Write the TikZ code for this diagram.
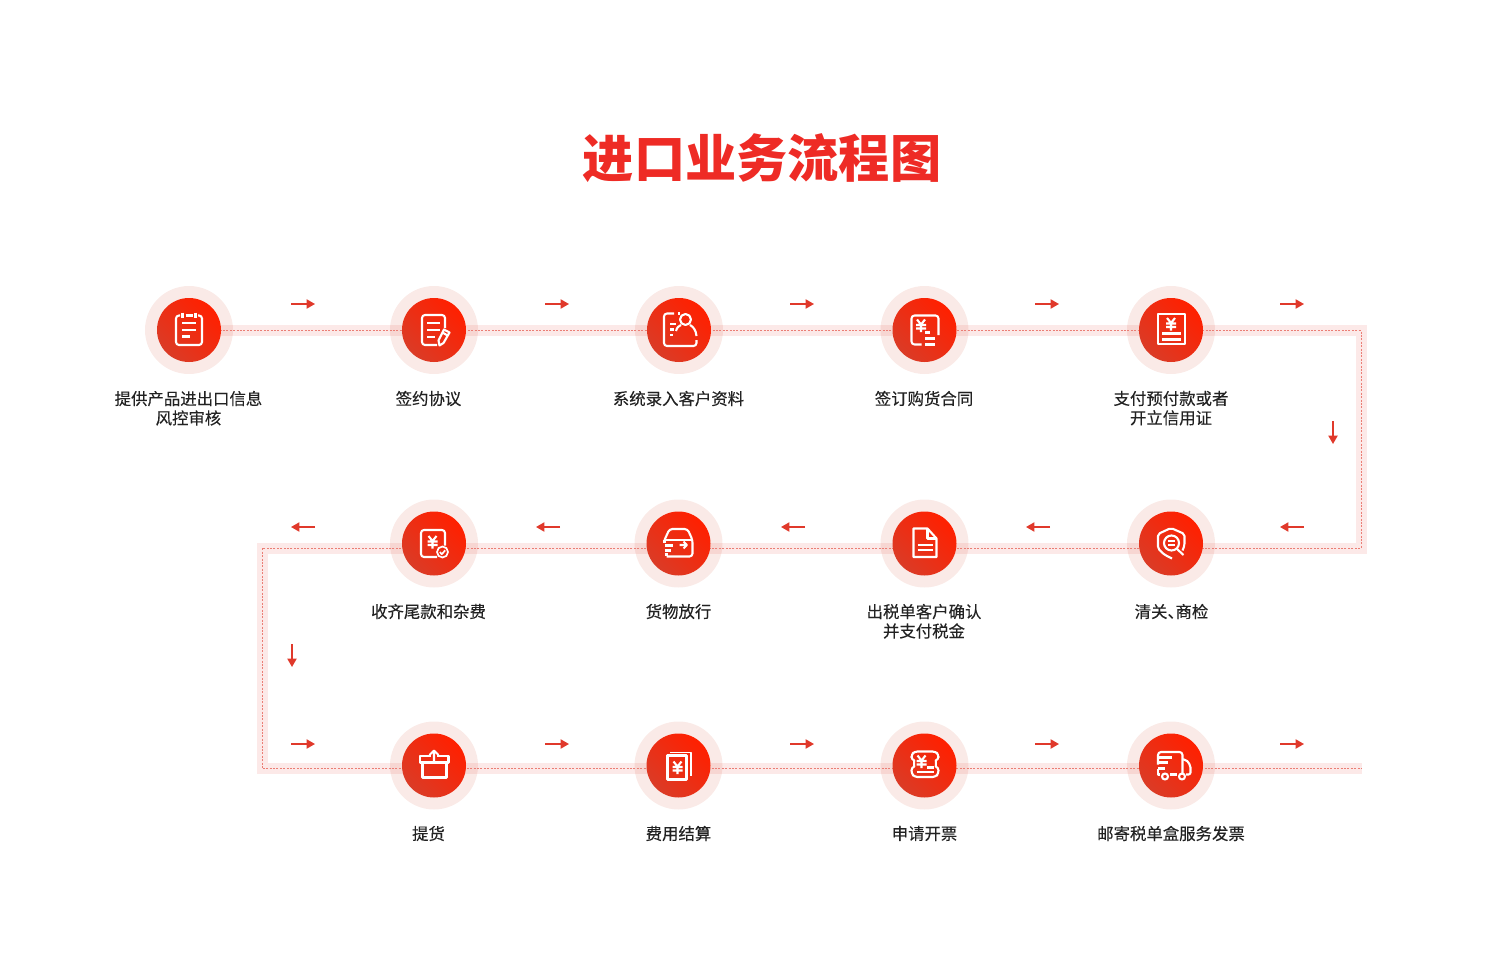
\documentclass[tikz,border=0pt]{standalone}
\usepackage{fontspec}
\setmainfont{Noto Sans CJK SC}
\newfontfamily\labelfont[FakeBold=0.25]{Noto Sans CJK SC}
\usetikzlibrary{arrows.meta}

\definecolor{flowred}{HTML}{E0392B}
\definecolor{titlered}{HTML}{EE2B25}
\definecolor{halopink}{HTML}{FAEAE7}
\definecolor{discdark}{HTML}{DB3B26}
\definecolor{discbright}{HTML}{FF2000}
\definecolor{labelgray}{HTML}{222222}

\tikzset{
  titletext/.style={text=titlered,font=\fontsize{25.6}{30}\selectfont\bfseries,inner sep=0pt},
  halo/.style={circle,fill=halopink,minimum size=44pt,inner sep=0pt},
  disc/.style={circle,top color=discbright,bottom color=discdark,shading angle=-45,minimum size=32pt,inner sep=0pt},
  band/.style={draw=flowred,draw opacity=0.11,line width=5.5pt,line join=miter},
  dashline/.style={draw=flowred!65,line width=0.25pt,dash pattern=on 1pt off 0.7pt},
  flowarrow/.style={draw=flowred,line width=0.8pt,-{Triangle[length=4.2pt,width=4.6pt]}},
  iconline/.style={draw=white,line width=1.05pt,line join=round,fill=none},
  iconthin/.style={draw=white,line width=0.85pt,line join=round,fill=none},
  steplabel/.style={text=labelgray,font=\labelfont\fontsize{8.2}{9.7}\selectfont,align=center,anchor=north,inner sep=0pt}
}

\newcommand{\yenmark}[1]{\draw[iconline,shift={#1}] (-4,-6) -- (0,-1) -- (4,-6) (-5,-0.5) -- (5,-0.5) (-5,3) -- (5,3) (0,-1) -- (0,6.5);}

\begin{document}
\begin{tikzpicture}[x=0.5pt,y=-0.5pt]
  \useasboundingbox (0,0) rectangle (1500,963);

  \node[titletext] (title) at (762,158) {进口业务流程图};

  % halos sit under the route
  \node[halo] (h1) at (189,330) {};
  \node[halo] (h2) at (434,330) {};
  \node[halo] (h3) at (679,330) {};
  \node[halo] (h4) at (924.5,330) {};
  \node[halo] (h5) at (1171,330) {};
  \node[halo] (h6) at (1171,543.5) {};
  \node[halo] (h7) at (924.5,543.5) {};
  \node[halo] (h8) at (678.5,543.5) {};
  \node[halo] (h9) at (434,543.5) {};
  \node[halo] (h10) at (434,765.5) {};
  \node[halo] (h11) at (678.5,765.5) {};
  \node[halo] (h12) at (924.5,765.5) {};
  \node[halo] (h13) at (1171,765.5) {};

  \coordinate (r0) at (189,330.5);
  \coordinate (r1) at (1361,330.5);
  \coordinate (r2) at (1361,548);
  \coordinate (r3) at (262,548);
  \coordinate (r4) at (262,768.5);
  \coordinate (r5) at (1362,768.5);
  \draw[band] (r0) -- (r1) -- (r2) -- (r3) -- (r4) -- (r5);
  \draw[dashline] (r0) -- (r1) -- (r2) -- (r3) -- (r4) -- (r5);

  \node[disc] (s1) at (h1) {};
  \node[disc] (s2) at (h2) {};
  \node[disc] (s3) at (h3) {};
  \node[disc] (s4) at (h4) {};
  \node[disc] (s5) at (h5) {};
  \node[disc] (s6) at (h6) {};
  \node[disc] (s7) at (h7) {};
  \node[disc] (s8) at (h8) {};
  \node[disc] (s9) at (h9) {};
  \node[disc] (s10) at (h10) {};
  \node[disc] (s11) at (h11) {};
  \node[disc] (s12) at (h12) {};
  \node[disc] (s13) at (h13) {};

  % labels
  \node[steplabel] (t1) at (188.5,390.5) {提供产品进出口信息\\风控审核};
  \node[steplabel] (t2) at (428.5,390.5) {签约协议};
  \node[steplabel] (t3) at (678.5,390.5) {系统录入客户资料};
  \node[steplabel] (t4) at (924,390.5) {签订购货合同};
  \node[steplabel] (t5) at (1171,390.5) {支付预付款或者\\开立信用证};
  \node[steplabel] (t6) at (1171.5,603.5) {清关、\kern-4.2pt 商检};
  \node[steplabel] (t7) at (924,603.5) {出税单客户确认\\并支付税金};
  \node[steplabel] (t8) at (678.5,603.5) {货物放行};
  \node[steplabel] (t9) at (428.5,603.5) {收齐尾款和杂费};
  \node[steplabel] (t10) at (428.5,825.5) {提货};
  \node[steplabel] (t11) at (678.5,825.5) {费用结算};
  \node[steplabel] (t12) at (924.5,825.5) {申请开票};
  \node[steplabel] (t13) at (1171,825.5) {邮寄税单盒服务发票};

  % small arrows
  \coordinate (a1) at (291,304); \coordinate (b1) at (315,304); \draw[flowarrow] (a1) -- (b1);
  \coordinate (a2) at (545,304); \coordinate (b2) at (569,304); \draw[flowarrow] (a2) -- (b2);
  \coordinate (a3) at (790,304); \coordinate (b3) at (814,304); \draw[flowarrow] (a3) -- (b3);
  \coordinate (a4) at (1035,304); \coordinate (b4) at (1059,304); \draw[flowarrow] (a4) -- (b4);
  \coordinate (a5) at (1280,304); \coordinate (b5) at (1304,304); \draw[flowarrow] (a5) -- (b5);
  \coordinate (a6) at (1333,421); \coordinate (b6) at (1333,444); \draw[flowarrow] (a6) -- (b6);
  \coordinate (a7) at (1304,527); \coordinate (b7) at (1280,527); \draw[flowarrow] (a7) -- (b7);
  \coordinate (a8) at (1050,527); \coordinate (b8) at (1026,527); \draw[flowarrow] (a8) -- (b8);
  \coordinate (a9) at (805,527); \coordinate (b9) at (781,527); \draw[flowarrow] (a9) -- (b9);
  \coordinate (a10) at (560,527); \coordinate (b10) at (536,527); \draw[flowarrow] (a10) -- (b10);
  \coordinate (a11) at (315,527); \coordinate (b11) at (291,527); \draw[flowarrow] (a11) -- (b11);
  \coordinate (a12) at (292,644); \coordinate (b12) at (292,667); \draw[flowarrow] (a12) -- (b12);
  \coordinate (a13) at (291,744); \coordinate (b13) at (315,744); \draw[flowarrow] (a13) -- (b13);
  \coordinate (a14) at (545,744); \coordinate (b14) at (569,744); \draw[flowarrow] (a14) -- (b14);
  \coordinate (a15) at (790,744); \coordinate (b15) at (814,744); \draw[flowarrow] (a15) -- (b15);
  \coordinate (a16) at (1035,744); \coordinate (b16) at (1059,744); \draw[flowarrow] (a16) -- (b16);
  \coordinate (a17) at (1280,744); \coordinate (b17) at (1304,744); \draw[flowarrow] (a17) -- (b17);

  % icons
  \begin{scope}[shift={(s1.center)}]
    \draw[iconline,rounded corners=1.5] (-9,-14.5) -- (-13,-14.5) -- (-13,15) -- (13,15) -- (13,-14.5) -- (9,-14.5);
    \draw[iconline] (-3.5,-14.5) -- (3.5,-14.5) (-6.5,-17.5) -- (-6.5,-12) (6.5,-17.5) -- (6.5,-12);
    \draw[iconline] (-7,-7) -- (7,-7) (-7,0) -- (7,0) (-7,6.5) -- (1,6.5);
  \end{scope}

  \begin{scope}[shift={(s2.center)}]
    \draw[iconline,rounded corners=1.5] (3,15) -- (-12,15) -- (-12,-15) -- (11,-15) -- (11,-2);
    \draw[iconline] (-7,-7) -- (6,-7) (-7,0) -- (6,0) (-7,7) -- (1,7);
    \draw[iconline] (10,-0.5) -- (15.5,2.5) -- (9.5,13) -- (5.5,15.5) -- (4.5,10.5) -- cycle (8.5,2.5) -- (13.5,5.5);
  \end{scope}

  \begin{scope}[shift={(s3.center)}]
    \draw[iconline,rounded corners=1.5] (-5,-16.5) -- (-15,-16.5) -- (-15,16) -- (17.5,16) -- (17.5,10);
    \draw[iconline] (6.5,-10.5) circle (5.5);
    \draw[iconline] (-3,1) .. controls (-2,-3) and (0,-4) .. (2,-5) (11,-5) .. controls (14,-3.5) and (17,0) .. (17.5,6);
    \draw[iconline] (-9,-6) -- (-3.5,-6) (-9,-0.5) -- (-5,-0.5) (-9,5) -- (-6,5) (-1,-16.5) -- (0.5,-16.5);
  \end{scope}

  \begin{scope}[shift={(s4.center)}]
    \draw[iconline,rounded corners=1.5] (-3,14.5) -- (-13,14.5) -- (-13,-14.5) -- (14,-14.5) -- (14,5);
    \yenmark{(-3.5,-4.5)}
    \draw[iconline] (0.5,2.5) -- (5,2.5) (0.5,8.5) -- (10.5,8.5) (0.5,14.5) -- (10.5,14.5);
  \end{scope}

  \begin{scope}[shift={(s5.center)}]
    \draw[iconline] (-13,-16) rectangle (14,14);
    \yenmark{(0,-6)}
    \draw[iconline] (-9,3.5) -- (10,3.5) (-9,9.5) -- (10,9.5);
  \end{scope}

  \begin{scope}[shift={(s6.center)}]
    \draw[iconline,rounded corners=1] (11.5,7) -- (13.5,2) -- (13.5,-9.5) -- (0,-15.5) -- (-13,-9.5) -- (-13,1) .. controls (-13,7) and (-6,12) .. (1,15);
    \draw[iconline] (0.5,-0.5) circle (7.5);
    \draw[iconline] (6,5.5) -- (12.5,11.5);
    \draw[iconthin] (-3,-2.5) -- (4,-2.5) (-3,1.5) -- (4,1.5);
  \end{scope}

  \begin{scope}[shift={(s7.center)}]
    \draw[iconline] (-11,-15) -- (3,-15) -- (12,-5) -- (12,13.5) -- (-11,13.5) -- cycle;
    \draw[iconline] (3,-15) -- (3,-5) -- (12,-5);
    \draw[iconline] (-7,1.5) -- (8.5,1.5) (-7,6.5) -- (8.5,6.5);
  \end{scope}

  \begin{scope}[shift={(s8.center)}]
    \draw[iconline,rounded corners=1.5] (-14,-3.5) -- (-9,-14.5) -- (9,-14.5) -- (14,-3.5) -- (14,13) -- (-12,13);
    \draw[iconline] (-14,-3.5) -- (14,-3.5) (-14,-3.5) -- (-14,-1);
    \draw[iconline] (-14,2) -- (-6,2) (-14,7) -- (-8,7) (-14,11) -- (-11,11);
    \draw[iconline] (1,1.5) -- (8,1.5) (5,-2) -- (8.5,1.5) -- (5,5);
  \end{scope}

  \begin{scope}[shift={(s9.center)}]
    \draw[iconline,rounded corners=1.5] (3,13.5) -- (-13,13.5) -- (-13,-13.5) -- (11,-13.5) -- (11,2);
    \yenmark{(-1.5,-1.5)}
    \draw[iconthin] (8.5,8.5) circle (5.5);
    \draw[iconthin] (5.8,8.5) -- (7.8,10.7) -- (11.2,6.8);
  \end{scope}

  \begin{scope}[shift={(s10.center)}]
    \draw[iconline] (-3,-9.5) -- (-14,-9.5) -- (-14,-3) -- (14.5,-3) -- (14.5,-9.5) -- (3,-9.5);
    \draw[iconline] (-11.5,-3) rectangle (12.5,12);
    \draw[iconline] (0,-4) -- (0,-15) (-4.5,-10.5) -- (0,-15) -- (4.5,-10.5);
  \end{scope}

  \begin{scope}[shift={(s11.center)}]
    \draw[iconline] (-11,-10) rectangle (8,14);
    \draw[iconthin] (-8.5,-13) -- (12.5,-13) -- (12.5,10.5);
    \yenmark{(-1,2)}
  \end{scope}

  \begin{scope}[shift={(s12.center)}]
    \draw[iconline,rounded corners=1.5] (-10,-14) -- (11,-14) -- (14,-11) -- (14,-6) .. controls (11.5,-5) and (11.5,1) .. (14,2) -- (14,8) -- (11,11.5) -- (-10,11.5) -- (-13,8) -- (-13,2) .. controls (-10.5,1) and (-10.5,-5) .. (-13,-6) -- (-13,-11) -- cycle;
    \yenmark{(-3,-4)}
    \draw[iconline] (-8,6.5) -- (9,6.5) (2.5,2) -- (9,2);
  \end{scope}

  \begin{scope}[shift={(s13.center)}]
    \draw[iconline,rounded corners=1.5] (-13,-1) -- (-13,-13.5) -- (11.5,-13.5) -- (11.5,9);
    \draw[iconline,rounded corners=1] (11.5,-6) -- (15,-6) -- (19.5,0) -- (19.5,9) -- (15,9);
    \draw[iconline] (6,9) -- (-1,9) (-13,3) -- (-13,9) -- (-11,9);
    \draw[iconline] (-13,-8) -- (1,-8) (-13,-3) -- (-3,-3) (-13,3) -- (-6,3);
    \draw[iconline] (-6,11) circle (3) (11,11) circle (3);
  \end{scope}
\end{tikzpicture}
\end{document}
